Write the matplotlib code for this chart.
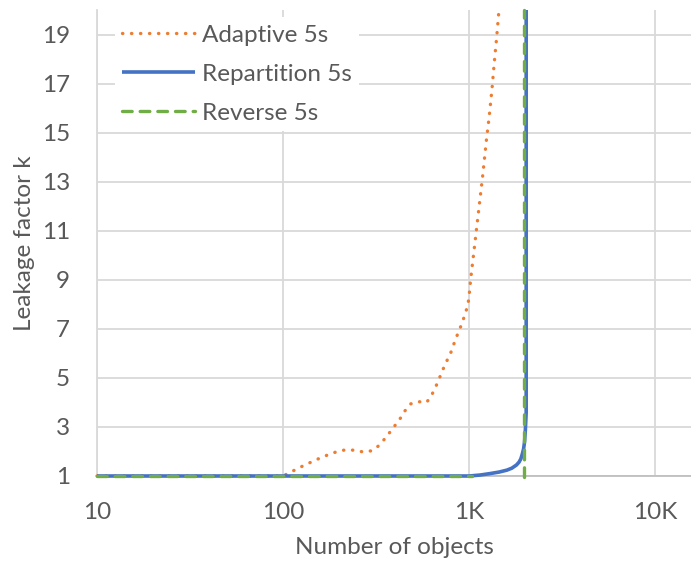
import numpy as np
import matplotlib
matplotlib.use("Agg")
import matplotlib.pyplot as plt

# ---- data ----
adaptive_x = [10, 100, 108, 119, 131, 145, 160, 177, 196, 218, 243, 270, 301, 328, 351,
              376, 402, 428, 453, 486, 536, 592, 630, 659, 690, 718, 750, 800, 847, 920,
              984, 1000, 1020, 1072, 1126, 1185, 1239, 1286, 1330, 1369, 1409, 1449]
adaptive_y = [1.0, 1.0, 1.13, 1.29, 1.45, 1.6, 1.75, 1.88, 2.0, 2.07, 2.05, 1.98, 2.03, 2.24, 2.5,
              2.79, 3.08, 3.36, 3.66, 3.94, 4.03, 4.0, 4.3, 4.6, 4.95, 5.28, 5.6, 6.05, 6.58, 7.25,
              7.94, 8.29, 9.0, 10.4, 11.8, 13.25, 14.66, 15.7, 16.8, 17.9, 18.9, 20.0]

repart_x = [10, 100, 1000, 1150, 1300, 1450, 1600, 1700, 1800, 1860, 1900, 1935, 1965, 1990, 2010, 2030, 2030]
repart_y = [1.0, 1.0, 1.0, 1.04, 1.1, 1.16, 1.24, 1.32, 1.45, 1.57, 1.7, 1.9, 2.1, 2.4, 2.9, 3.6, 20.0]

reverse_x = [10, 100, 1040, np.nan, 1980, 1980]
reverse_y = [1.0, 1.0, 1.0, np.nan, 0.97, 20.0]

x_ticks = [10, 100, 1000, 10000]
x_ticklabels = ["10", "100", "1K", "10K"]
y_ticks = [1, 3, 5, 7, 9, 11, 13, 15, 17, 19]

labels = ["Adaptive 5s", "Repartition 5s", "Reverse 5s"]
colors = ["#ED7D31", "#4472C4", "#70AD47"]

# ---- style ----
plt.rcParams['font.family'] = ['Lato', 'DejaVu Sans']
text_color = "#595959"
grid_color = "#D9D9D9"
fs = 17.5

fig = plt.figure(figsize=(6.91, 5.69), dpi=100)
ax = fig.add_axes([97/691, 1 - 476/569, 1 - 97/691, (476 - 10)/569])

ax.plot(adaptive_x, adaptive_y, color=colors[0], lw=2.4,
        linestyle=(0, (0.1, 2.6)), dash_capstyle='round', label=labels[0],
        clip_on=False, zorder=3)
ax.plot(repart_x, repart_y, color=colors[1], lw=2.6, solid_capstyle='butt',
        label=labels[1], clip_on=False, zorder=4)
ax.plot(reverse_x, reverse_y, color=colors[2], lw=2.4,
        linestyle=(0, (2.9, 2.4)), dash_capstyle='round', label=labels[2],
        clip_on=False, zorder=5)

ax.set_xscale('log')
ax.set_xlim(10, 10 ** (1 + (691 - 97) / 186))
ax.set_ylim(1, 20)

ax.set_xticks(x_ticks)
ax.set_xticklabels(x_ticklabels)
ax.xaxis.set_minor_locator(matplotlib.ticker.NullLocator())
ax.set_yticks(y_ticks)

ax.grid(True, color=grid_color, lw=1.3)
ax.set_axisbelow(True)
for s in ['top', 'right']:
    ax.spines[s].set_visible(False)
ax.spines['left'].set_color(grid_color)
ax.spines['left'].set_linewidth(1.3)
ax.spines['bottom'].set_color("#BFBFBF")
ax.spines['bottom'].set_linewidth(1.3)

ax.tick_params(axis='both', length=0, labelsize=fs, colors=text_color)
ax.tick_params(axis='y', pad=19.5)
ax.tick_params(axis='x', pad=19)

ax.set_xlabel("Number of objects", fontsize=fs, color=text_color, labelpad=10)
ax.set_ylabel("Leakage factor k", fontsize=fs, color=text_color, labelpad=5)

leg = ax.legend(loc='upper left', bbox_to_anchor=(0.03, 0.984), frameon=True,
                fontsize=fs, handlelength=3.0, handletextpad=0.29,
                labelspacing=0.74, borderpad=0.3, borderaxespad=0.0)
leg.get_frame().set_facecolor('white')
leg.get_frame().set_edgecolor('none')
leg.get_frame().set_alpha(1.0)
leg.set_zorder(6)
for t in leg.get_texts():
    t.set_color(text_color)

fig.savefig("out.png", dpi=100)
